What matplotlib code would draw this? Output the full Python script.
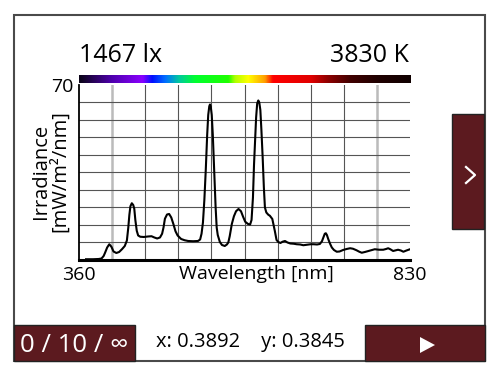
import numpy as np
import matplotlib
matplotlib.use("Agg")
import matplotlib.pyplot as plt
import matplotlib.patches as mpatches
from matplotlib.colors import LinearSegmentedColormap
from matplotlib.lines import Line2D

plt.rcParams["font.family"] = ["Open Sans", "DejaVu Sans"]

# ── Data ──────────────────────────────────────────────────
lux_text = "1467 lx"
cct_text = "3830 K"
count_text = "0 / 10 / \u221e"
chroma_text = "x: 0.3892    y: 0.3845"

x_min, x_max = 360, 830
y_max = 70

wavelength = [
    370, 380, 388, 392, 395, 397, 400, 403, 406, 409, 413, 417, 421, 425,
    428, 430, 431.5, 433, 435, 437, 438.5, 440, 442, 444, 447, 452, 458,
    463, 467, 471, 475, 478, 480, 482, 485, 488, 491, 494, 497, 500, 505,
    510, 515, 522, 529, 532, 534, 536, 538, 540, 542, 543.5, 545, 546, 547,
    548.5, 550, 552, 554, 555.5, 557, 560, 563, 567, 570, 572, 574, 577,
    580, 583, 586.5, 590, 593, 596, 600, 603, 605, 607, 608.5, 610, 611.5,
    613, 614.6, 616, 617.5, 619, 620.8, 622.5, 624, 626, 628.8, 631, 634.5,
    636, 638, 640.5, 643, 646, 649, 652.5, 656, 660, 665, 669, 674, 678.5,
    684, 689, 693, 698, 702, 705, 707, 709, 710.5, 712, 714, 716.5, 719,
    722, 726, 730, 735, 740, 745, 749, 754, 758, 761.5, 766, 771, 776, 780,
    786, 792, 796, 799, 802, 806, 810, 813, 817, 820.6, 825, 830,
]
irradiance = [
    0.3, 0.3, 0.4, 0.6, 1.6, 2.9, 5.0, 6.3, 5.3, 3.4, 2.8, 3.2, 4.3, 5.6,
    7.8, 13, 18, 21.5, 22.7, 22, 20.5, 16, 11.7, 9.8, 9.3, 9.2, 9.4,
    9.5, 9.0, 8.6, 9.0, 10.5, 13, 16.5, 18.2, 18.4, 17, 14.4, 11.5, 9.8, 8.4,
    7.9, 7.6, 7.5, 7.6, 8.2, 10.5, 15, 24, 36, 50, 58, 61.5, 62.2, 61.5,
    58, 50, 35, 21, 13, 10, 7.2, 6.0, 5.6, 6.2, 7.0, 9.5, 14.4,
    17.5, 19.5, 20.4, 19.5, 17.3, 15.3, 14.4, 14.2, 16, 25, 38, 48, 57,
    62.6, 63.8, 63, 60, 52, 41, 29, 21, 19, 18.1, 17.7, 16.4,
    14.4, 11.7, 8.0, 7.2, 6.8, 7.3, 7.6, 7.0, 6.6, 6.5, 6.3, 6.2, 5.9,
    6.1, 6.3, 6.3, 6.2, 6.4, 7.5, 9.0, 10.5, 10.7, 10.0, 8.3, 6.5, 5.0,
    4.0, 3.3, 3.4, 4.0, 4.4, 4.7, 4.5, 3.9, 3.3, 2.9, 3.2, 3.6, 4.0, 4.3,
    4.1, 4.1, 4.4, 4.7, 4.3, 3.6, 3.9, 4.1, 3.8, 3.3, 3.8, 4.3,
]

# colour bar stops (fraction along bar, colour)
bar_pos = [0.0, 0.10, 0.19, 0.22, 0.26, 0.30, 0.35, 0.45, 0.47, 0.51,
           0.56, 0.585, 0.70, 0.75, 0.82, 0.90, 1.0]
bar_col = ["#0a0418", "#5000b0", "#8a00ff", "#0010ff", "#0070ff", "#00c8a0",
           "#00ff30", "#20ff00", "#b0ff00", "#ffff00", "#ffa000", "#ff0000",
           "#e00000", "#900000", "#400000", "#200000", "#100000"]

maroon = "#5c1a1f"

# ── Figure ────────────────────────────────────────────────
fig = plt.figure(figsize=(5, 3.75), dpi=100, facecolor="white")

ax = fig.add_axes([0.158, 0.3067, 0.662, 0.4667])
ax.set_xlim(x_min, x_max)
ax.set_ylim(0, y_max)

# grid: 10 x 10, first/last inner verticals lighter
xs = np.linspace(x_min, x_max, 11)[1:-1]
for i, gx in enumerate(xs):
    if i in (0, len(xs) - 1):
        ax.axvline(gx, color="#bbbbbb", lw=1.8, zorder=1)
    else:
        ax.axvline(gx, color="#555555", lw=0.8, zorder=1)
for gy in np.arange(7, y_max, 7):
    ax.axhline(gy, color="#555555", lw=0.8, zorder=1)

ax.plot(wavelength, irradiance, color="black", lw=1.5, zorder=3)

for s in ("top", "right"):
    ax.spines[s].set_visible(False)
ax.spines["left"].set_linewidth(1.3)
ax.spines["bottom"].set_linewidth(2.2)
ax.set_xticks([x_min, x_max])
ax.set_xticklabels([str(x_min), str(x_max)], fontsize=14)
ax.set_yticks([y_max])
ax.set_yticklabels([str(y_max)], fontsize=14)
ax.tick_params(length=0, pad=4)
ax.text(0.536, -0.03, "Wavelength [nm]", transform=ax.transAxes,
        ha="center", va="top", fontsize=14)
fig.text(0.101, 0.543, "Irradiance\n[mW/m\u00b2/nm]", rotation=90,
         ha="center", va="center", fontsize=14.5, linespacing=0.95)

# spectrum colour bar
cmap = LinearSegmentedColormap.from_list("spec", list(zip(bar_pos, bar_col)))
cax = fig.add_axes([0.158, 0.7787, 0.662, 0.0213])
cax.imshow(np.linspace(0, 1, 512)[None, :], aspect="auto", cmap=cmap)
cax.axis("off")

# header values
fig.text(0.158, 0.835, lux_text, ha="left", va="baseline", fontsize=18)
fig.text(0.817, 0.835, cct_text, ha="right", va="baseline", fontsize=18)

# ── Frame and buttons ─────────────────────────────────────
tf = fig.transFigure
fig.add_artist(mpatches.Rectangle((0.028, 0.0373), 0.942, 0.9227, transform=tf,
                                  fill=False, ec="#4a4a4a", lw=1.5))
fig.add_artist(mpatches.Rectangle((0.028, 0.0373), 0.242, 0.096, transform=tf,
                                  fc=maroon, ec="#222222", lw=1))
fig.add_artist(mpatches.Rectangle((0.73, 0.0373), 0.24, 0.096, transform=tf,
                                  fc=maroon, ec="#222222", lw=1))
fig.add_artist(mpatches.Rectangle((0.904, 0.3893), 0.064, 0.3067, transform=tf,
                                  fc=maroon, ec="#222222", lw=1))
fig.add_artist(mpatches.Polygon([(0.84, 0.1013), (0.84, 0.0587), (0.87, 0.08)],
                                closed=True, transform=tf, fc="white", ec="none"))
fig.add_artist(Line2D([0.932, 0.95, 0.932], [0.5547, 0.5333, 0.512],
                      transform=tf, color="white", lw=1.6))

fig.text(0.149, 0.06, count_text, ha="center", va="baseline",
         fontsize=18.5, color="white")
fig.text(0.5, 0.075, chroma_text, ha="center", va="baseline", fontsize=14.5)

fig.savefig("out.png", dpi=100, facecolor="white")
